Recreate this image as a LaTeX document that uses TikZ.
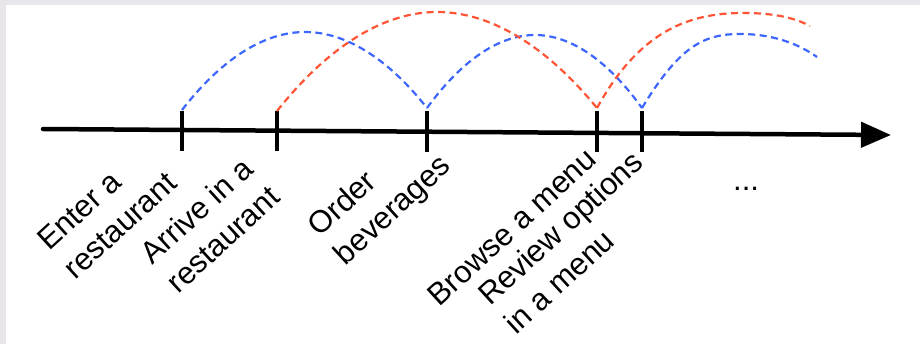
\documentclass[tikz,border=0pt]{standalone}
\usepackage{fontspec}
\setmainfont{Liberation Sans}
\usetikzlibrary{arrows.meta}
\definecolor{bgray}{HTML}{E8E5EB}
\definecolor{dblue}{HTML}{3D66FF}
\definecolor{dred}{HTML}{FF5536}
\begin{document}
\begin{tikzpicture}[x=1pt,y=-1pt,
  lbl/.style={rotate=42.5, anchor=base west, align=left, inner sep=0pt, font=\fontsize{31}{38.5}\selectfont},
  tickmark/.style={line width=4pt},
  axisline/.style={line width=4.5pt, line cap=round, -{Triangle[length=30pt,width=25pt]}},
  bluearc/.style={draw=dblue, dash pattern=on 7pt off 4.5pt, line width=2.2pt},
  redarc/.style={draw=dred, dash pattern=on 7pt off 4.5pt, line width=2.2pt}]
\fill[bgray] (0,0) rectangle (920,344);
\fill[white] (6,5) rectangle (920,344);
\useasboundingbox (0,0) rectangle (920,344);
% axis
\coordinate (a0) at (43,129);
\coordinate (a1) at (891,135);
\draw[axisline] (a0) -- (a1);
% ticks
\coordinate (t1) at (182,111); \coordinate (u1) at (182,151);
\coordinate (t2) at (277,111); \coordinate (u2) at (277,151);
\coordinate (t3) at (427,111); \coordinate (u3) at (427,152);
\coordinate (t4) at (597,111); \coordinate (u4) at (597,152);
\coordinate (t5) at (642,111); \coordinate (u5) at (642,152);
\foreach \i in {1,...,5} \draw[tickmark] (t\i) -- (u\i);
% arcs
\coordinate (s1) at (182,110);
\coordinate (s2) at (277,111);
\coordinate (s3) at (427,108);
\coordinate (s4) at (597,108);
\coordinate (s5) at (642,108);
\coordinate (e1) at (817,57);
\coordinate (e2) at (810,26);
\draw[bluearc] (s1) parabola bend (305,32) (s3);
\draw[bluearc] (s3) parabola bend (535,35) (s5);
\draw[bluearc] (s5) .. controls (680,45) and (705,34) .. (740,34) .. controls (775,34) and (800,45) .. (e1);
\draw[redarc] (s2) parabola bend (437,12) (s4);
\draw[redarc] (s4) .. controls (640,30) and (690,13) .. (743,13) .. controls (775,13) and (795,18) .. (e2);
% labels (anchored at the baseline start of the last line)
\node[lbl] (l1) at (75.5,280.4) {Enter a\\restaurant};
\node[lbl] (l2) at (178.5,294.4) {Arrive in a\\restaurant};
\node[lbl] (l3) at (345.5,266.4) {Order\\beverages};
\node[lbl] (l4) at (439.5,307.4) {Browse a menu};
\node[lbl] (l5) at (516,335.5) {Review options\\in a menu};
\node[anchor=base west, inner sep=0pt, font=\fontsize{31}{38.5}\selectfont] (dots) at (733,191) {...};
\end{tikzpicture}
\end{document}
